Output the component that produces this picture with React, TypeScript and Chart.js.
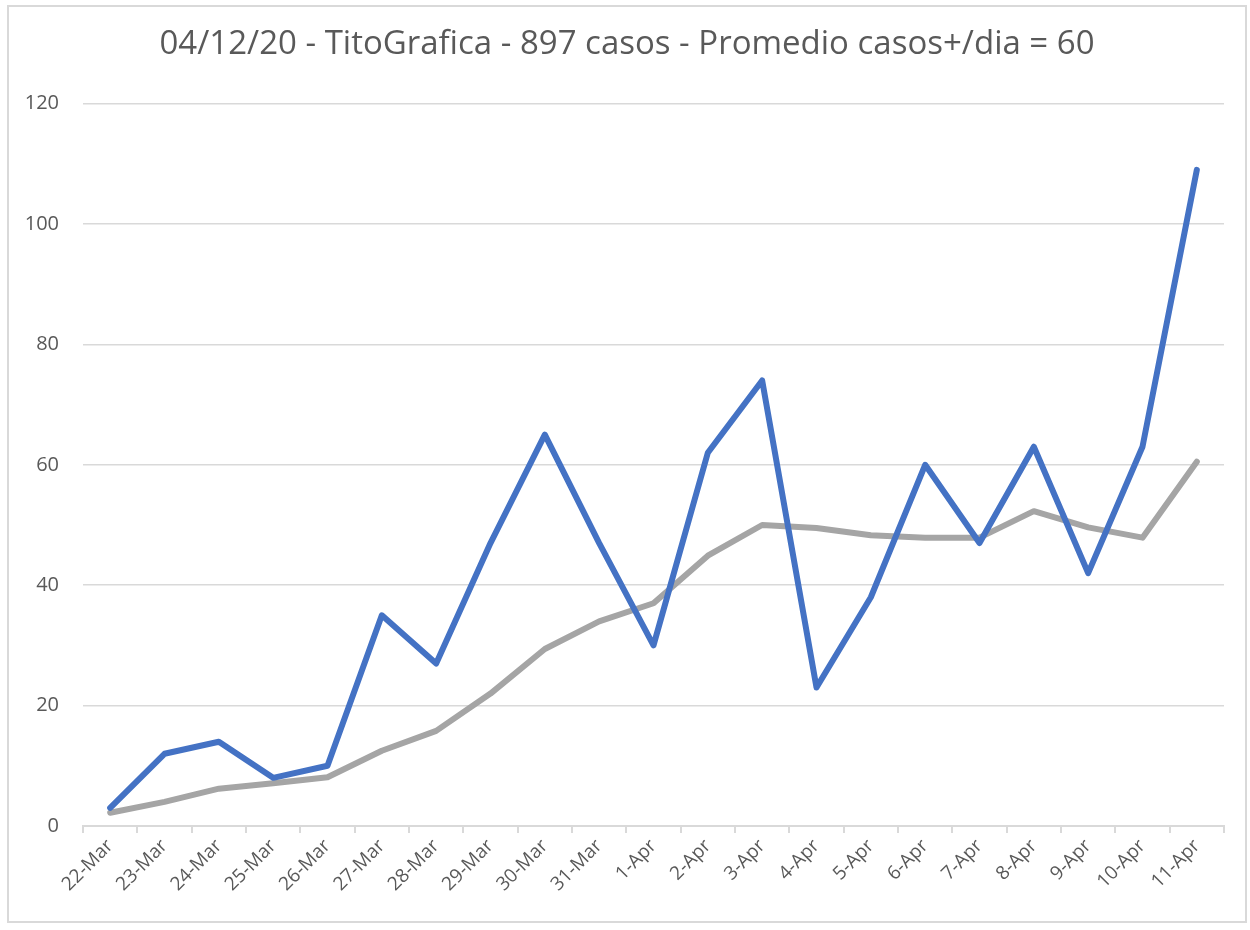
import React, { useEffect, useRef } from "react";
import { Chart, registerables } from "chart.js";

Chart.register(...registerables);

const categories = [
  "22-Mar", "23-Mar", "24-Mar", "25-Mar", "26-Mar", "27-Mar", "28-Mar",
  "29-Mar", "30-Mar", "31-Mar", "1-Apr", "2-Apr", "3-Apr", "4-Apr",
  "5-Apr", "6-Apr", "7-Apr", "8-Apr", "9-Apr", "10-Apr", "11-Apr",
];

const dailyCases = [3, 12, 14, 8, 10, 35, 27, 47, 65, 47, 30, 62, 74, 23, 38, 60, 47, 63, 42, 63, 109];

const averageCases = [2.2, 4, 6.2, 7.1, 8.1, 12.5, 15.8, 22, 29.4, 34, 37, 44.9, 50, 49.5, 48.3, 47.9, 47.9, 52.3, 49.6, 47.9, 60.5];

const yTicks = [0, 20, 40, 60, 80, 100, 120];

const titleText = "04/12/20 - TitoGrafica - 897 casos - Promedio casos+/dia = 60";

const FONT = "'Open Sans', sans-serif";
const TEXT = "#595959";
const GRID = "#d9d9d9";

export default function App() {
  const ref = useRef<HTMLCanvasElement | null>(null);

  useEffect(() => {
    if (!ref.current) return;
    const chart = new Chart(ref.current, {
      type: "line",
      data: {
        labels: categories,
        datasets: [
          {
            label: "Casos",
            data: dailyCases,
            borderColor: "#4472C4",
            backgroundColor: "#4472C4",
            borderWidth: 6,
            pointRadius: 0,
            tension: 0,
            borderJoinStyle: "round",
            borderCapStyle: "round",
          },
          {
            label: "Promedio",
            data: averageCases,
            borderColor: "#A5A5A5",
            backgroundColor: "#A5A5A5",
            borderWidth: 6,
            pointRadius: 0,
            tension: 0,
            borderJoinStyle: "round",
            borderCapStyle: "round",
          },
        ],
      },
      options: {
        responsive: false,
        animation: false,
        layout: { padding: 0 },
        plugins: {
          legend: { display: false },
          tooltip: { enabled: false },
          title: {
            display: true,
            text: titleText,
            color: TEXT,
            font: { family: FONT, size: 33, weight: "normal", lineHeight: 1.2 },
            padding: { top: 18, bottom: 39 },
          },
        },
        scales: {
          x: {
            offset: true,
            grid: {
              offset: true,
              drawOnChartArea: false,
              drawTicks: true,
              tickLength: 7,
              color: GRID,
              lineWidth: 2,
            },
            border: { display: true, color: GRID, width: 2 },
            ticks: {
              color: TEXT,
              font: { family: FONT, size: 19 },
              minRotation: 45,
              maxRotation: 45,
              autoSkip: false,
              padding: 2,
            },
            afterFit: (scale: any) => {
              scale.height = 95;
            },
          },
          y: {
            min: 0,
            max: 120,
            afterBuildTicks: (scale: any) => {
              scale.ticks = yTicks.map((v) => ({ value: v }));
            },
            grid: {
              drawTicks: false,
              color: GRID,
              lineWidth: 1.5,
            },
            border: { display: false },
            ticks: {
              color: TEXT,
              font: { family: FONT, size: 20 },
              padding: 24,
            },
            afterFit: (scale: any) => {
              scale.width = 74;
            },
          },
          yRight: {
            position: "right",
            display: true,
            min: 0,
            max: 120,
            grid: { display: false, drawOnChartArea: false, drawTicks: false },
            border: { display: false },
            ticks: { display: false },
            afterFit: (scale: any) => {
              scale.width = 21;
            },
          },
        },
      },
    });
    return () => chart.destroy();
  }, []);

  return (
    <div
      style={{
        position: "absolute",
        left: 7,
        top: 5,
        width: 1240,
        height: 918,
        border: "2px solid #d9d9d9",
        boxSizing: "border-box",
        background: "#fff",
      }}
    >
      <canvas ref={ref} width={1236} height={914} style={{ display: "block", width: 1236, height: 914 }} />
    </div>
  );
}
